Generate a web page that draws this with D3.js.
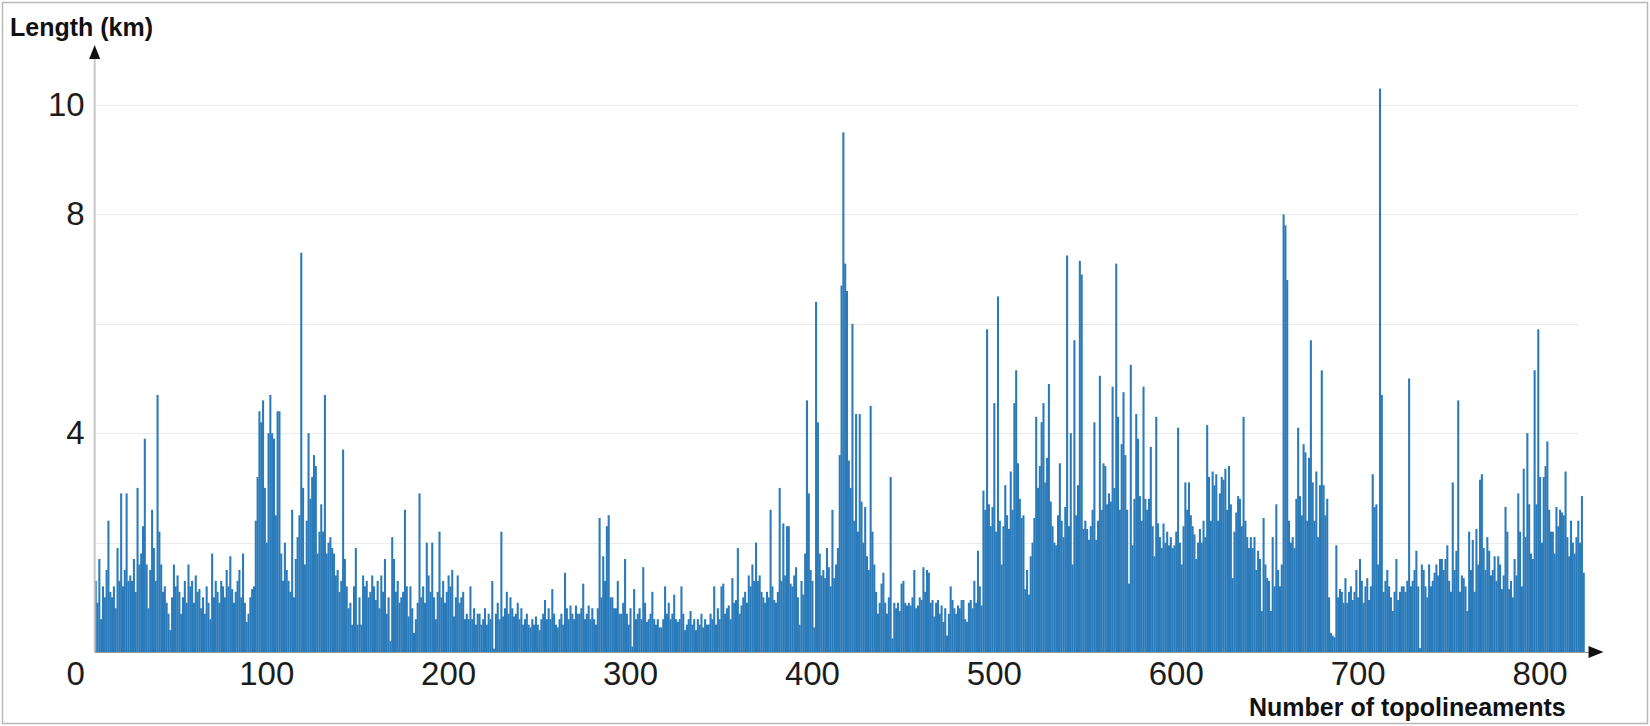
<!DOCTYPE html>
<meta charset="utf-8">
<style>
body {
  margin: 0;
  background: #fff;
  font-family: "Liberation Sans", Arial, sans-serif;
}
.gridline {
  stroke: #ebebeb;
  stroke-width: 1px;
}
.bar {
  fill: #2b7bba;
}
.tick text {
  font-family: "Liberation Sans", Arial, sans-serif;
  font-size: 33px;
  fill: #1c1c1c;
}
.axislabel {
  font-family: "Liberation Sans", Arial, sans-serif;
  font-weight: bold;
  font-size: 25px;
  fill: #111;
}
</style>
<body>
<div id="chart"></div>

<script src="https://d3js.org/d3.v7.min.js"></script>
<script>
// length (km) of each topolineament, in order
var lengths = [
  1.3, 0.9, 1.7, 0.6, 1.2, 1.0, 1.5, 2.4, 1.1, 1.0,
  1.2, 0.8, 1.9, 1.3, 2.9, 1.2, 1.5, 2.9, 1.3, 1.4,
  1.3, 1.7, 1.1, 3.0, 1.6, 1.8, 2.3, 3.9, 1.6, 0.8,
  1.5, 2.6, 1.9, 1.3, 4.7, 2.2, 1.6, 1.1, 1.2, 0.9,
  0.7, 0.4, 1.0, 1.6, 1.2, 1.4, 1.1, 0.7, 1.0, 1.3,
  0.9, 1.6, 1.2, 1.3, 0.9, 1.4, 1.1, 1.15, 0.8, 1.0,
  0.7, 1.2, 0.9, 0.6, 1.8, 1.0, 1.3, 1.1, 0.9, 1.3,
  1.2, 1.0, 1.5, 1.2, 1.75, 1.15, 0.9, 1.1, 1.3, 1.5,
  1.0, 1.8, 0.9, 0.55, 0.7, 1.0, 1.15, 1.2, 2.4, 3.2,
  4.4, 4.2, 4.6, 3.0, 2.0, 4.0, 4.7, 4.0, 3.9, 2.5,
  4.4, 4.4, 1.8, 1.3, 2.0, 1.5, 1.3, 1.1, 2.6, 1.0,
  1.7, 2.1, 2.5, 7.3, 3.0, 1.6, 2.4, 4.0, 2.8, 3.2,
  3.6, 3.4, 1.8, 2.2, 2.7, 2.2, 4.7, 1.8, 2.0, 2.1,
  1.9, 1.8, 1.4, 1.5, 1.1, 1.3, 3.7, 1.7, 1.2, 0.8,
  0.9, 0.5, 1.2, 1.9, 0.5, 1.0, 0.5, 1.4, 1.2, 1.3,
  1.0, 1.1, 1.4, 1.2, 0.95, 1.3, 0.8, 1.4, 1.1, 1.7,
  0.7, 1.0, 0.2, 2.1, 1.7, 1.1, 1.3, 0.9, 1.0, 1.1,
  2.6, 1.2, 0.65, 1.2, 0.8, 0.35, 0.6, 0.9, 2.9, 1.0,
  1.2, 0.9, 2.0, 1.4, 1.1, 2.0, 1.0, 0.6, 1.1, 2.2,
  1.0, 1.3, 0.9, 1.1, 1.4, 1.2, 1.5, 0.65, 1.0, 1.4,
  0.9, 1.0, 1.1, 0.6, 0.7, 0.6, 1.2, 0.6, 0.8, 0.5,
  0.7, 0.7, 0.5, 0.6, 0.8, 0.5, 0.7, 0.6, 1.3, 0.06,
  0.7, 0.9, 0.6, 2.2, 0.65, 0.8, 1.1, 0.7, 1.0, 0.8,
  0.65, 0.7, 0.9, 0.6, 0.8, 0.5, 0.6, 0.7, 0.5, 0.45,
  0.6, 0.5, 0.65, 0.5, 0.4, 0.6, 0.7, 0.95, 0.6, 0.8,
  0.6, 1.15, 0.7, 0.5, 0.45, 0.6, 0.7, 0.5, 1.45, 0.8,
  0.6, 0.85, 0.7, 0.6, 0.85, 0.7, 0.7, 0.8, 1.25, 0.6,
  0.7, 0.85, 0.6, 0.8, 0.6, 0.5, 0.8, 2.45, 1.0, 1.75,
  1.3, 2.3, 2.5, 1.0, 1.0, 0.8, 0.8, 1.3, 0.7, 0.7,
  0.9, 1.7, 0.7, 0.5, 0.8, 0.1, 1.15, 0.6, 0.7, 0.8,
  0.6, 1.55, 0.9, 0.55, 0.6, 0.7, 1.1, 0.6, 0.5, 0.6,
  0.45, 0.45, 0.6, 1.2, 0.7, 0.9, 0.6, 0.7, 1.05, 0.6,
  0.55, 0.6, 1.2, 0.7, 0.4, 0.5, 0.6, 0.75, 0.5, 0.6,
  0.4, 0.6, 0.5, 0.7, 0.45, 0.6, 0.5, 0.5, 0.7, 0.6,
  1.2, 0.5, 0.8, 0.6, 1.2, 1.25, 0.7, 0.8, 0.85, 0.6,
  1.35, 0.9, 0.95, 1.9, 0.7, 0.85, 1.0, 1.1, 0.9, 1.4,
  1.2, 1.6, 1.3, 2.0, 1.3, 1.4, 1.1, 1.0, 0.9, 1.1,
  1.0, 2.6, 1.2, 0.95, 0.9, 1.1, 3.0, 1.3, 2.35, 1.4,
  2.3, 2.3, 1.25, 1.2, 1.4, 1.55, 1.0, 0.5, 1.3, 1.05,
  1.8, 4.6, 2.9, 1.5, 1.3, 0.45, 6.4, 4.2, 1.8, 1.4,
  1.5, 1.35, 1.9, 1.55, 1.2, 2.6, 1.35, 1.6, 1.9, 3.6,
  6.7, 9.5, 7.1, 6.6, 3.5, 3.0, 6.0, 2.4, 4.35, 2.2,
  4.35, 2.75, 2.0, 2.65, 1.75, 1.5, 4.5, 2.2, 1.6, 1.1,
  0.7, 0.9, 1.25, 1.45, 0.9, 0.7, 1.0, 3.2, 0.25, 0.9,
  0.8, 0.9, 0.75, 1.25, 1.3, 0.9, 0.85, 0.9, 0.85, 1.0,
  1.5, 0.8, 0.85, 1.0, 0.95, 1.55, 1.1, 1.5, 1.45, 0.9,
  0.95, 0.65, 0.9, 0.95, 0.7, 0.85, 0.55, 0.8, 0.3, 0.7,
  1.2, 0.95, 0.8, 0.7, 0.85, 0.8, 0.95, 0.95, 0.6, 0.55,
  0.9, 0.95, 0.8, 1.3, 0.9, 1.85, 1.2, 0.85, 2.95, 2.6,
  5.9, 2.7, 2.3, 2.65, 4.55, 2.2, 6.5, 2.4, 1.6, 2.3,
  3.05, 2.5, 2.25, 3.3, 2.6, 4.55, 5.15, 3.45, 2.8, 2.45,
  2.5, 1.15, 1.5, 1.05, 1.75, 2.0, 2.45, 4.3, 3.0, 3.4,
  4.2, 4.55, 3.1, 3.55, 4.9, 2.75, 2.3, 2.0, 1.95, 2.5,
  3.45, 2.4, 2.1, 2.65, 7.25, 2.3, 4.0, 1.6, 5.7, 2.5,
  3.05, 7.15, 6.9, 2.25, 2.4, 2.25, 2.05, 2.3, 2.6, 4.2,
  2.05, 2.4, 5.05, 2.6, 3.45, 3.4, 2.7, 2.9, 2.75, 4.85,
  3.0, 7.1, 4.3, 2.6, 3.8, 4.75, 3.6, 2.6, 1.25, 5.25,
  1.95, 2.8, 4.35, 3.9, 2.85, 2.4, 4.85, 2.8, 2.6, 2.8,
  3.75, 2.3, 1.75, 4.3, 2.35, 2.1, 1.9, 2.35, 2.0, 2.2,
  1.95, 2.1, 1.9, 1.95, 2.2, 4.1, 2.0, 1.6, 2.3, 3.1,
  2.6, 3.1, 2.5, 2.3, 2.15, 1.7, 2.0, 2.25, 2.0, 2.4,
  2.1, 4.15, 3.2, 2.4, 3.3, 3.05, 3.25, 2.4, 2.9, 3.2,
  3.15, 3.35, 2.6, 3.4, 2.7, 1.35, 2.2, 2.55, 2.85, 2.8,
  2.3, 4.3, 2.4, 2.1, 1.9, 2.1, 1.9, 2.1, 1.5, 1.85,
  1.7, 0.75, 2.45, 1.6, 1.35, 1.3, 0.75, 2.1, 1.2, 2.7,
  1.5, 1.2, 1.6, 8.0, 7.8, 6.8, 2.4, 2.0, 2.1, 1.9,
  2.8, 4.1, 2.85, 2.5, 3.8, 3.65, 2.4, 3.55, 5.7, 3.1,
  2.4, 3.3, 2.1, 3.05, 5.15, 3.05, 2.5, 2.8, 1.0, 0.35,
  0.3, 0.27, 1.95, 1.0, 1.15, 1.1, 0.9, 1.35, 0.9, 1.1,
  1.2, 0.95, 1.1, 1.5, 1.0, 1.7, 1.3, 0.9, 1.2, 1.35,
  0.95, 1.2, 3.25, 2.65, 2.7, 1.6, 10.3, 4.7, 1.1, 1.3,
  1.5, 1.2, 1.0, 0.75, 1.1, 1.7, 0.95, 1.1, 1.2, 1.2,
  1.1, 1.3, 5.0, 1.2, 1.3, 1.5, 1.85, 1.2, 0.07, 1.6,
  1.5, 1.2, 1.0, 1.6, 1.2, 1.3, 1.45, 1.6, 1.4, 1.7,
  1.7, 1.5, 1.7, 1.95, 1.3, 1.1, 3.1, 1.5, 1.85, 4.6,
  1.1, 1.4, 1.35, 1.2, 0.75, 2.2, 1.5, 2.05, 1.1, 2.25,
  1.6, 3.15, 3.25, 1.9, 1.5, 2.1, 1.85, 1.4, 1.5, 1.75,
  1.3, 1.75, 1.6, 1.15, 1.4, 2.65, 2.2, 1.15, 1.3, 1.0,
  1.7, 1.4, 2.9, 2.2, 1.2, 3.35, 2.1, 4.0, 2.7, 1.8,
  1.7, 5.15, 2.7, 5.9, 3.2, 2.0, 3.2, 3.4, 3.85, 2.6,
  2.2, 2.2, 1.8, 2.65, 2.3, 2.6, 2.55, 2.5, 3.3, 2.1,
  1.75, 2.4, 2.0, 1.8, 2.1, 2.4, 2.0, 2.85, 1.45
];
var xTickValues = [0, 100, 200, 300, 400, 500, 600, 700, 800];
var yTickValues = [4, 8, 10];
var gridValues = [2, 4, 6, 8, 10];
// the first bar sits a little right of the "0" label in the figure
var firstBar = 5.7;

var width = 1650,
    height = 726;

var x = d3.scaleLinear().domain([0, 800]).range([84.3, 1539.6]);
var y = d3.scaleLinear().domain([0, 10]).range([652, 105]);

var xStart = x(firstBar),
    xEnd = x(firstBar + lengths.length);

var svg = d3.select("#chart").append("svg")
    .attr("width", width)
    .attr("height", height);

// frame round the whole figure
svg.append("rect")
    .attr("x", 2.5)
    .attr("y", 2.5)
    .attr("width", width - 5)
    .attr("height", height - 5)
    .attr("fill", "none")
    .attr("stroke", "#b8b8b8")
    .attr("stroke-width", 1.5);

// faint horizontal gridlines
svg.selectAll(".gridline")
    .data(gridValues)
  .enter().append("line")
    .attr("class", "gridline")
    .attr("x1", xStart)
    .attr("x2", xEnd - 6)
    .attr("y1", function(d) { return Math.round(y(d)) + 0.5; })
    .attr("y2", function(d) { return Math.round(y(d)) + 0.5; });

// the bars
svg.selectAll(".bar")
    .data(lengths)
  .enter().append("rect")
    .attr("class", "bar")
    .attr("x", function(d, i) { return x(firstBar + i); })
    .attr("width", function(d, i) { return x(firstBar + i + 1) - x(firstBar + i) + 0.25; })
    .attr("y", function(d) { return y(d); })
    .attr("height", function(d) { return y(0) - y(d); });

// y axis line + arrow
svg.append("line")
    .attr("x1", xStart)
    .attr("x2", xStart)
    .attr("y1", y(0))
    .attr("y2", 56)
    .attr("stroke", "#c6c6c6")
    .attr("stroke-width", 2);
svg.append("path")
    .attr("d", "M" + (xStart - 5.5) + ",59L" + xStart + ",45L" + (xStart + 5.5) + ",59Z")
    .attr("fill", "#111");

// x axis line + arrow
svg.append("line")
    .attr("x1", xStart)
    .attr("x2", xEnd + 6)
    .attr("y1", y(0) + 0.5)
    .attr("y2", y(0) + 0.5)
    .attr("stroke", "#9a9a9a")
    .attr("stroke-width", 1);
svg.append("path")
    .attr("d", "M" + (xEnd + 4) + "," + (y(0) - 6) + "L" + (xEnd + 19) + "," + y(0) + "L" + (xEnd + 4) + "," + (y(0) + 6) + "Z")
    .attr("fill", "#111");

// tick labels
var xAxis = svg.append("g")
    .attr("class", "xAxis")
    .attr("transform", "translate(0," + y(0) + ")")
    .call(d3.axisBottom(x).tickValues(xTickValues).tickSize(0).tickPadding(10));
xAxis.select(".domain").remove();
xAxis.selectAll(".tick text")
    .filter(function(d) { return d === 0; })
    .style("text-anchor", "end");

var yAxis = svg.append("g")
    .attr("class", "yAxis")
    .attr("transform", "translate(" + xStart + ",0)")
    .call(d3.axisLeft(y).tickValues(yTickValues).tickSize(0).tickPadding(10));
yAxis.select(".domain").remove();

// axis titles
svg.append("text")
    .attr("class", "axislabel")
    .attr("x", 10)
    .attr("y", 36)
    .text("Length (km)");
svg.append("text")
    .attr("class", "axislabel")
    .attr("x", 1249)
    .attr("y", 716)
    .text("Number of topolineaments");
</script>
</body>
